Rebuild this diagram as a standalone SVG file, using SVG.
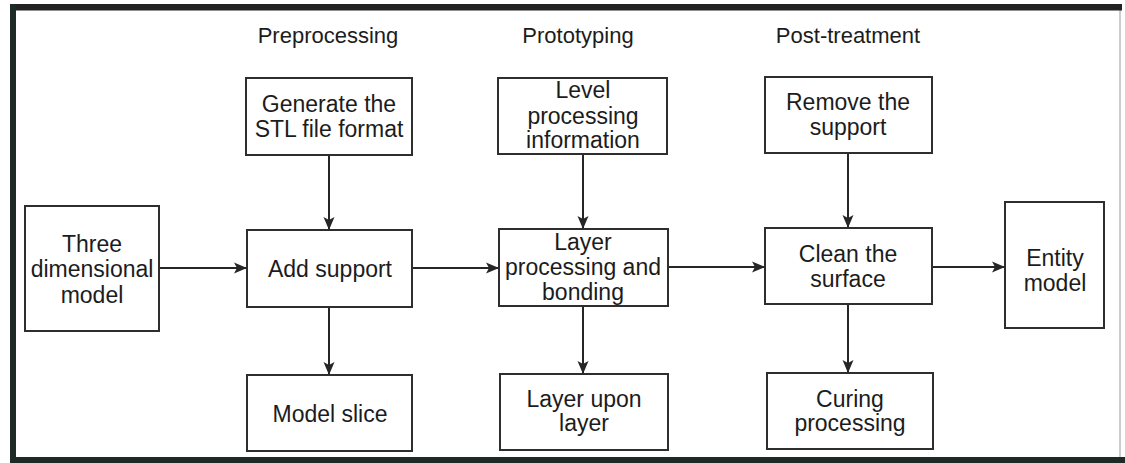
<svg xmlns="http://www.w3.org/2000/svg" width="1125" height="463" viewBox="0 0 1125 463">
<defs>
<marker id="arr" markerUnits="userSpaceOnUse" markerWidth="14" markerHeight="12" refX="13" refY="6" orient="auto">
<path d="M0,0.5 L13,6 L0,11.5 L3,6 z" fill="#262626"/>
</marker>
<style>
.box{fill:#fff;stroke:#2e2e2e;stroke-width:2}
.t{font-family:"Liberation Sans",Arial,sans-serif;font-size:23px;fill:#1c1c1c;text-anchor:middle}
.h{font-family:"Liberation Sans",Arial,sans-serif;font-size:22px;fill:#1c1c1c;text-anchor:middle}
.c{stroke:#262626;stroke-width:2;fill:none;marker-end:url(#arr)}
</style>
</defs>
<rect width="1125" height="463" fill="#fff"/>
<g id="frame">
<line x1="1120" y1="8" x2="1120" y2="460" stroke="#bbb" stroke-width="1.5"/>
<rect x="10" y="4" width="1112" height="6.5" fill="#222"/>
<rect x="10" y="4" width="6" height="459" fill="#1e2a26"/>
<rect x="10" y="457" width="1115" height="6" fill="#1e2a26"/>
</g>
<g id="headings">
<text class="h" x="328" y="43">Preprocessing</text>
<text class="h" x="578" y="43">Prototyping</text>
<text class="h" x="848" y="43">Post-treatment</text>
</g>
<g id="connectors">
<line class="c" x1="159" y1="268" x2="247" y2="268"/>
<line class="c" x1="329" y1="155" x2="329" y2="230"/>
<line class="c" x1="329" y1="307" x2="329" y2="375"/>
<line class="c" x1="412" y1="268" x2="499" y2="268"/>
<line class="c" x1="583" y1="154" x2="583" y2="229"/>
<line class="c" x1="583" y1="306" x2="583" y2="374"/>
<line class="c" x1="668" y1="267" x2="765" y2="267"/>
<line class="c" x1="848" y1="153" x2="848" y2="228"/>
<line class="c" x1="848" y1="304" x2="848" y2="373"/>
<line class="c" x1="932" y1="267" x2="1005" y2="267"/>
</g>
<g id="three-dimensional-model">
<rect class="box" x="25" y="206" width="134" height="125"/>
<text class="t" x="92" y="252">Three</text>
<text class="t" x="92" y="277">dimensional</text>
<text class="t" x="92" y="303">model</text>
</g>
<g id="generate-stl">
<rect class="box" x="246" y="78" width="166" height="77"/>
<text class="t" x="329" y="112">Generate the</text>
<text class="t" x="329" y="137">STL file format</text>
</g>
<g id="add-support">
<rect class="box" x="247" y="230" width="165" height="77"/>
<text class="t" x="330" y="277">Add support</text>
</g>
<g id="model-slice">
<rect class="box" x="247" y="375" width="165" height="76"/>
<text class="t" x="330" y="422">Model slice</text>
</g>
<g id="level-processing">
<rect class="box" x="498" y="78" width="169" height="76"/>
<text class="t" x="583" y="98">Level</text>
<text class="t" x="583" y="124">processing</text>
<text class="t" x="583" y="148">information</text>
</g>
<g id="layer-processing">
<rect class="box" x="499" y="229" width="169" height="77"/>
<text class="t" x="583" y="250">Layer</text>
<text class="t" x="583" y="275">processing and</text>
<text class="t" x="583" y="300">bonding</text>
</g>
<g id="layer-upon-layer">
<rect class="box" x="500" y="374" width="168" height="76"/>
<text class="t" x="584" y="407">Layer upon</text>
<text class="t" x="584" y="431">layer</text>
</g>
<g id="remove-support">
<rect class="box" x="765" y="77" width="167" height="76"/>
<text class="t" x="848" y="110">Remove the</text>
<text class="t" x="848" y="135">support</text>
</g>
<g id="clean-surface">
<rect class="box" x="765" y="228" width="167" height="76"/>
<text class="t" x="848" y="262">Clean the</text>
<text class="t" x="848" y="287">surface</text>
</g>
<g id="curing-processing">
<rect class="box" x="767" y="373" width="166" height="76"/>
<text class="t" x="850" y="407">Curing</text>
<text class="t" x="850" y="431">processing</text>
</g>
<g id="entity-model">
<rect class="box" x="1005" y="202" width="99" height="126"/>
<text class="t" x="1055" y="266">Entity</text>
<text class="t" x="1055" y="291">model</text>
</g>
</svg>
